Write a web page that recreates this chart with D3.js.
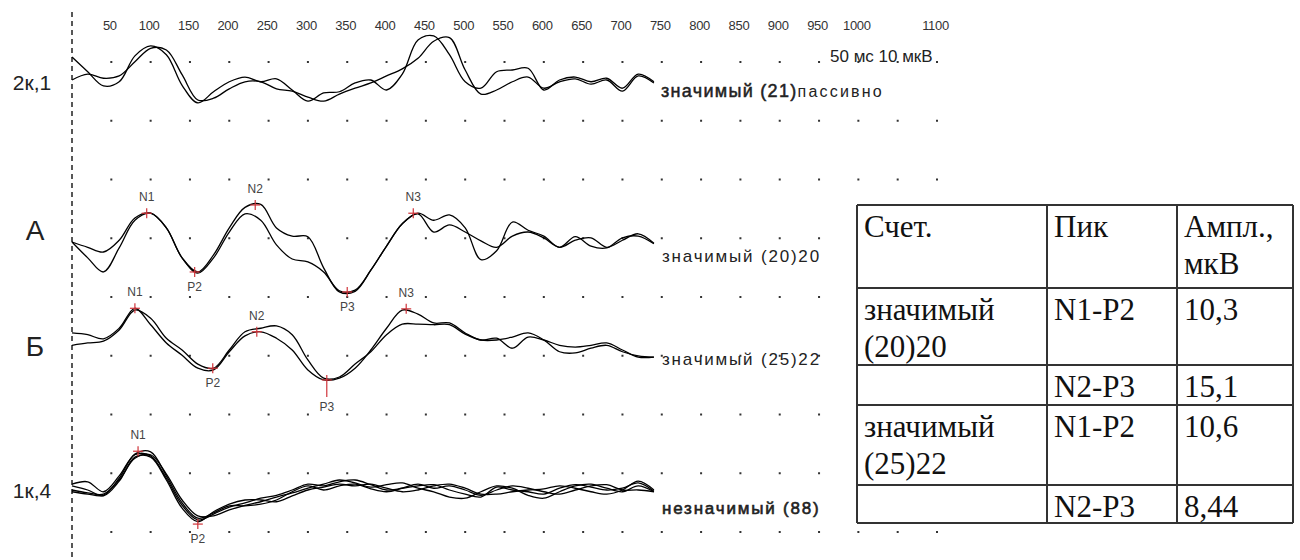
<!DOCTYPE html>
<html>
<head>
<meta charset="utf-8">
<script src="https://cdn.jsdelivr.net/npm/d3@7"></script>
<style>
  body { margin: 0; background: #fff; }
  svg { display: block; }
</style>
</head>
<body>
<div id="chart"></div>
<script>
// time points (ms) shared by every averaged curve
var times = [0,20,40,60,80,100,120,140,160,180,200,220,240,260,280,300,320,340,360,380,
             400,420,440,460,480,500,520,540,560,580,600,620,640,660,680,700,720,740];
var tickLabels = [50,100,150,200,250,300,350,400,450,500,550,600,650,700,750,800,850,900,950,1000,1100];

// 2к,1 (passive)
var passiveA = [3.9,1.4,-1.0,-0.3,4.1,5.8,4.3,-0.9,-3.9,-2.0,-0.3,0.5,-0.3,0.2,-1.7,-3.6,-2.2,-2.0,-0.5,0,
                -1.7,1.0,6.8,7.5,4.3,-0.3,-1.4,1.4,1.7,2.0,-1.7,0,0.5,-0.3,0.3,-1.4,1.0,-0.3];
var passiveB = [0,1.0,0.3,0.7,3.1,5.4,5.1,0.9,-3.4,-3.1,-1.5,-0.3,-0.3,-1.5,-1.9,-2.9,-3.6,-2.4,-1.4,-0.5,
                0.7,1.9,3.7,6.6,7.2,1.7,-2.4,-1.7,-0.3,0.5,-1.4,-0.3,0.2,-0.7,0,-1.9,0.7,-0.5];
// А
var seriesA1 = [0,-0.9,-1.7,0.3,4.1,4.9,2.4,-2.7,-5.1,-2.2,2.4,5.9,6.4,2.4,1.0,0.9,-4.4,-8.5,-8.4,-4.8,
                -0.7,3.1,4.8,1.7,2.9,1.7,0.2,-0.9,1.0,1.7,0.7,-0.9,0.3,0.7,-0.9,0.3,1.4,-0.2];
var seriesA2 = [0,-2.7,-5.1,-1.0,3.7,4.9,2.4,-2.7,-5.3,-2.7,1.7,4.8,3.7,-0.5,-2.9,-3.4,-5.1,-8.3,-8.2,-4.8,
                -0.7,3.1,4.9,3.7,4.6,2.4,-3.0,-1.5,3.4,2.0,1.0,-0.9,0.9,-0.7,-1.0,0.7,1.0,-0.3];
// Б
var seriesB1 = [1.2,0.9,0.2,2.0,5.4,2.6,-0.5,-2.6,-4.8,-5.1,-2.0,0.7,1.4,0.3,-1.7,-5.1,-6.8,-6.5,-4.8,-1.7,
                2.0,5.1,4.4,2.9,2.9,1.2,0,0.3,-1.4,0.5,0,-0.9,-1.2,-0.9,-0.5,-1.7,-2.9,-2.9];
var seriesB2 = [-0.9,-0.5,-0.2,1.7,5.1,3.7,0.3,-1.7,-4.1,-4.8,-1.7,1.4,2.0,2.4,0.9,-3.4,-6.5,-6.3,-4.1,-2.0,
                0.9,2.7,2.7,2.6,2.6,1.0,0,0,0.5,1.2,0,-2.0,-2.2,-1.4,-0.9,-2.0,-2.7,-2.9];
// 1к,4
var control1 = [1.0,1.4,-0.3,2.4,6.0,5.8,2.0,-2.6,-5.1,-4.1,-2.9,-2.2,-1.4,-0.9,0,1.0,0.7,1.4,1.7,0.9,
                0,0.3,0.7,0.9,0,-0.7,-1.2,0.5,0,-0.3,-0.7,0.3,0.9,0.5,0,0.3,1.2,-0.2];
var control2 = [0,-0.5,-0.7,1.7,5.4,6.0,2.7,-1.7,-4.4,-4.4,-3.4,-2.6,-2.0,-1.2,-0.5,0.3,1.0,1.7,1.2,0.5,
                0.9,1.2,0.3,-0.3,-1.2,-1.4,-0.3,0.7,0.3,-0.9,-1.4,-0.3,0.7,1.0,0.3,-0.3,0.7,-0.3];
var control3 = [-0.3,-0.7,-0.9,2.0,6.1,6.5,2.4,-2.2,-4.8,-3.9,-2.7,-2.7,-2.4,-1.7,-0.3,0.7,0,0.7,1.0,0.2,
                -0.3,0.3,1.0,0.3,0.7,0,-0.9,0,0.7,0.3,-0.3,-0.7,0,0.7,0.9,0,0,-0.3];
var control4 = [0.7,0,-1.0,1.5,5.6,5.6,1.7,-3.1,-5.4,-3.7,-2.4,-1.7,-1.7,-2.0,-1.0,0,0.5,1.0,0.7,1.0,
                0.3,-0.3,0,0.7,1.0,0.3,-0.7,-0.7,-0.3,0,0.2,0.7,0.3,-0.3,-0.7,0,1.5,0];

// peaks
var peakNamesA = ["N1","P2","N2","P3","N3"];
var peakTimesA = [95,156,233,350,434];
var peakAmpsA  = [4.9,-5.1,6.3,-8.5,4.9];
var peakNamesB = ["N1","P2","N2","P3","N3"];
var peakTimesB = [80,179,235,324,425];
var peakAmpsB  = [5.4,-4.8,1.4,-6.8,5.3];
var peakNamesC = ["N1","P2"];
var peakTimesC = [84,160];
var peakAmpsC  = [6.6,-5.8];

var traceNames = ["2к,1","А","Б","1к,4"];
var traceNotes = ["значимый (21)","значимый (20)20","значимый (25)22","незначимый (88)"];

// table
var tableHead = [["Счет."],["Пик"],["Ампл.,","мкВ"]];
var tableRows = [
  [["значимый","(20)20"],["N1-P2"],["10,3"]],
  [[""],["N2-P3"],["15,1"]],
  [["значимый","(25)22"],["N1-P2"],["10,6"]],
  [[""],["N2-P3"],["8,44"]]
];

var W = 1300, H = 560;
var svg = d3.select('#chart').append('svg').attr('width', W).attr('height', H);
svg.append('rect').attr('width', W).attr('height', H).attr('fill', '#fff');

var x = d3.scaleLinear().domain([0, 1100]).range([72, 937]);
var uvPx = 5.875; // 10 мкВ = one grid row

// dot grid
var gridRows = d3.range(9).map(function (i) { return 62 + i * 58.75; });
var dots = [];
gridRows.forEach(function (gy) {
  tickLabels.concat([1050]).forEach(function (t) { dots.push({x: x(t), y: gy}); });
});
svg.append('g').selectAll('rect').data(dots)
  .enter().append('rect')
  .attr('x', function (d) { return d.x - 1; })
  .attr('y', function (d) { return d.y - 1; })
  .attr('width', 2).attr('height', 2)
  .attr('fill', '#333');

// top axis
var axis = svg.append('g').attr('transform', 'translate(-2,30)')
  .call(d3.axisTop(x).tickValues(tickLabels).tickFormat(d3.format('d')).tickSize(0).tickPadding(0));
axis.select('.domain').remove();
axis.selectAll('text').attr('font-family', 'Liberation Sans, Arial, sans-serif')
  .attr('font-size', 13).attr('fill', '#333').attr('letter-spacing', '-0.3');

svg.append('text').attr('x', 830).attr('y', 62)
  .attr('font-family', 'Liberation Sans, Arial, sans-serif').attr('font-size', 17)
  .attr('fill', '#222').text('50 мс 10 мкВ');

// dashed zero line
svg.append('line').attr('x1', 72).attr('x2', 72).attr('y1', 12).attr('y2', H)
  .attr('stroke', '#111').attr('stroke-width', 1.4).attr('stroke-dasharray', '5,4');

var traces = [
  {base: 80,  series: [passiveA, passiveB], names: [], tms: [], amps: []},
  {base: 242, series: [seriesA1, seriesA2], names: peakNamesA, tms: peakTimesA, amps: peakAmpsA},
  {base: 340, series: [seriesB1, seriesB2], names: peakNamesB, tms: peakTimesB, amps: peakAmpsB},
  {base: 490, series: [control1, control2, control3, control4], names: peakNamesC, tms: peakTimesC, amps: peakAmpsC}
];

traces.forEach(function (tr, ti) {
  var y = d3.scaleLinear().domain([-10, 10]).range([tr.base + 10 * uvPx, tr.base - 10 * uvPx]);
  var line = d3.line()
    .x(function (d, i) { return x(times[i]); })
    .y(function (d) { return y(d); })
    .curve(d3.curveCatmullRom.alpha(0.5));

  svg.append('g').selectAll('path').data(tr.series)
    .enter().append('path')
    .attr('d', line)
    .attr('fill', 'none')
    .attr('stroke', '#000')
    .attr('stroke-width', 1.3)
    .attr('stroke-linejoin', 'round');

  // peak markers
  var pk = tr.names.map(function (n, i) { return {n: n, x: x(tr.tms[i]), y: y(tr.amps[i])}; });
  var g = svg.append('g');
  pk.forEach(function (p) {
    var down = (ti == 2 && p.n == 'P3') ? 17 : 5;
    g.append('line').attr('x1', p.x - 5).attr('x2', p.x + 5).attr('y1', p.y).attr('y2', p.y)
      .attr('stroke', '#d0343a').attr('stroke-width', 1.2);
    g.append('line').attr('x1', p.x).attr('x2', p.x).attr('y1', p.y - 5).attr('y2', p.y + down)
      .attr('stroke', '#d0343a').attr('stroke-width', 1.2);
    var isN = p.n.charAt(0) == 'N';
    g.append('text')
      .attr('x', p.x).attr('y', isN ? p.y - 12 : p.y + down + 14)
      .attr('text-anchor', 'middle')
      .attr('font-family', 'Liberation Sans, Arial, sans-serif')
      .attr('font-size', 12).attr('fill', '#444')
      .text(p.n);
  });

  // left label
  var big = (ti == 1 || ti == 2);
  svg.append('text')
    .attr('x', big ? 35 : 32).attr('y', big ? tr.base - 2 + (ti == 2 ? 18 : 0) : tr.base + (ti == 0 ? 10 : 8))
    .attr('text-anchor', 'middle')
    .attr('font-family', 'Liberation Sans, Arial, sans-serif')
    .attr('font-size', big ? 28 : 21).attr('fill', '#222')
    .text(traceNames[ti]);
});

// right-side notes
var noteY = [97, 262, 365, 514];
var notes = svg.append('g').attr('font-family', 'Liberation Sans, Arial, sans-serif').attr('fill', '#222');
var topNote = notes.append('text').attr('x', 661).attr('y', noteY[0]);
topNote.append('tspan').attr('font-size', 18).attr('letter-spacing', '1.3')
  .attr('stroke', '#222').attr('stroke-width', 0.5).text(traceNotes[0]);
topNote.append('tspan').attr('font-size', 16).attr('letter-spacing', '2.2').text('пассивно');
[1, 2, 3].forEach(function (i) {
  notes.append('text').attr('x', 662).attr('y', noteY[i]).attr('font-size', 17)
    .attr('letter-spacing', '1.8')
    .attr('stroke', i == 3 ? '#222' : 'none').attr('stroke-width', 0.6)
    .text(traceNotes[i]);
});

// table
var colX = [857, 1047, 1177, 1293];
var rowY = [205, 288, 365, 405, 485, 523];
var tbl = svg.append('g');
tbl.append('rect').attr('x', colX[0]).attr('y', rowY[0])
  .attr('width', colX[3] - colX[0]).attr('height', rowY[5] - rowY[0]).attr('fill', '#fff');
tbl.selectAll('line.h').data(rowY).enter().append('line')
  .attr('x1', colX[0]).attr('x2', colX[3])
  .attr('y1', function (d) { return d; }).attr('y2', function (d) { return d; })
  .attr('stroke', '#333').attr('stroke-width', 2);
tbl.selectAll('line.v').data(colX).enter().append('line')
  .attr('y1', rowY[0]).attr('y2', rowY[5])
  .attr('x1', function (d) { return d; }).attr('x2', function (d) { return d; })
  .attr('stroke', '#333').attr('stroke-width', 2);

var allRows = [tableHead].concat(tableRows);
allRows.forEach(function (row, ri) {
  row.forEach(function (cell, ci) {
    var t = tbl.append('text')
      .attr('font-family', 'Liberation Serif, Times New Roman, serif')
      .attr('font-size', 31).attr('fill', '#111');
    cell.forEach(function (ln, li) {
      t.append('tspan').attr('x', colX[ci] + 7).attr('y', rowY[ri] + 32 + li * 37).text(ln);
    });
  });
});
</script>
</body>
</html>
